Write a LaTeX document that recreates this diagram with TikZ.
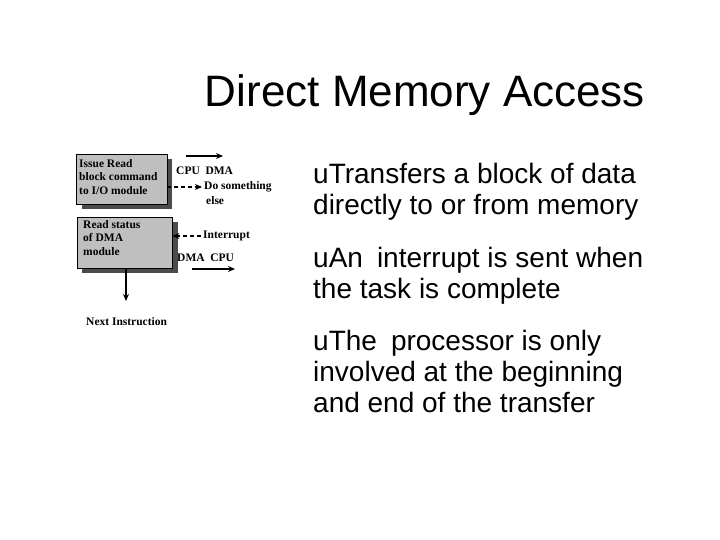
\documentclass[tikz,border=0pt]{standalone}
\usepackage{fontspec}
\setmainfont{Liberation Sans}
\newfontfamily\tnr{Liberation Serif}
\usetikzlibrary{arrows.meta}
\begin{document}
\begin{tikzpicture}[x=1pt,y=-1pt,
  box/.style={draw=black,fill=black!25,anchor=north west,inner sep=0pt},
  shad/.style={fill=black!70,draw=none},
  small/.style={font=\tnr\bfseries\fontsize{11.5}{13.5}\selectfont,inner sep=0pt,anchor=west},
  bul/.style={font=\fontsize{28}{31}\selectfont,anchor=north west,align=left,inner sep=0pt},
  arr/.style={-{Stealth[length=7pt,width=6pt]},line width=1.2pt}]
\fill[white] (0,0) rectangle (720,540);
\useasboundingbox (0,0) rectangle (720,540);
\node[font=\fontsize{44}{48}\selectfont,anchor=base] (title) at (425,107) {Direct Memory Access};
% boxes
\fill[shad] (82,159) rectangle (172,209);
\node[box,minimum width=91pt,minimum height=50pt] (b1) at (76,154) {};
\node[small,align=left,anchor=north west] at (79,159) {Issue Read\\block command\\to I/O module};
\fill[shad] (82,222) rectangle (178,273);
\node[box,minimum width=95pt,minimum height=51pt] (b2) at (77,217) {};
\node[small,align=left,anchor=north west] at (83,220) {Read status\\of DMA\\module};
% labels
\node[small] (cd) at (176,171) {CPU\enspace DMA};
\node[small] (ds) at (204,187) {Do something};
\node[small] at (206,201) {else};
\node[small] (int) at (203,236) {Interrupt};
\node[small] (dc) at (177,258) {DMA\enspace CPU};
\node[small] (ni) at (86,322) {Next Instruction};
\coordinate (a1) at (186,156); \coordinate (a2) at (223,156);
\draw[arr] (a1) -- (a2);
\draw[arr,dash pattern=on 4pt off 3pt] (b1.east |- ds.west) -- ([xshift=-2pt]ds.west);
\draw[arr,dash pattern=on 4pt off 3pt] ([xshift=-2pt]int.west) -- (b2.east |- int.west);
\coordinate (a3) at (192,269); \coordinate (a4) at (235,269);
\draw[arr] (a3) -- (a4);
\coordinate (a5) at (126,301);
\draw[arr] (b2.south -| a5) -- (a5);
% bullets
\node[bul] (t1) at (313,163) {uTransfers a block of data\\directly to or from memory};
\node[bul] (t2) at (313,247) {uAn\enspace interrupt is sent when\\the task is complete};
\node[bul] (t3) at (313,330) {uThe\enspace processor is only\\involved at the beginning\\and end of the transfer};
\end{tikzpicture}
\end{document}
